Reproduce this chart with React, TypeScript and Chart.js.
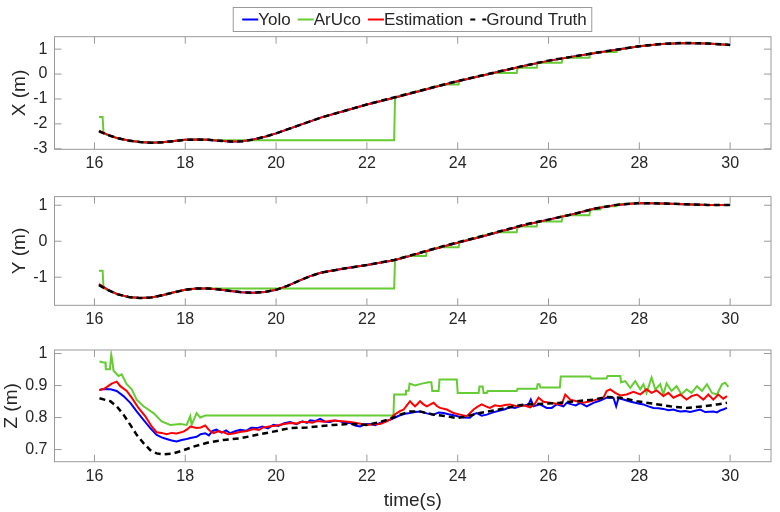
import { useEffect, useRef } from "react"
import Chart from "chart.js/auto"
import type { ChartConfiguration, Plugin } from "chart.js"

const FONT = '"Liberation Sans", Arial, Helvetica, sans-serif'
const TEXT = "#262626"
const BOX = "#9a9a9a"
const BLUE = "#0000ff"
const GREEN = "#66cc33"
const RED = "#ff0000"
const BLACK = "#000000"

const LABELS = ["Yolo", "ArUco", "Estimation", "Ground Truth"]

const T_MIN = 15.12
const T_MAX = 30.9
const TIME_TICKS = [16, 18, 20, 22, 24, 26, 28, 30]
const X_TICKS = [-3, -2, -1, 0, 1]
const Y_TICKS = [-1, 0, 1]
const Z_TICKS = [0.7, 0.8, 0.9, 1]

// X / Y panels: smooth tracks share one time base
const xyTime = [16.1, 16.3, 16.5, 16.75, 17.0, 17.25, 17.5, 17.75, 18.0, 18.25,
  18.5, 18.75, 19.0, 19.25, 19.5, 19.75, 20.0, 20.25, 20.5, 20.75,
  21.0, 21.5, 22.0, 22.6, 23.0, 23.5, 24.0, 24.5, 25.0, 25.5,
  26.0, 26.5, 27.0, 27.5, 28.0, 28.5, 29.0, 29.5, 30.0]

const xGt = [-2.3, -2.45, -2.57, -2.67, -2.73, -2.76, -2.74, -2.69, -2.64, -2.63,
  -2.64, -2.68, -2.71, -2.7, -2.63, -2.52, -2.38, -2.22, -2.06, -1.9,
  -1.74, -1.48, -1.22, -0.94, -0.75, -0.51, -0.28, -0.07, 0.14, 0.35,
  0.54, 0.69, 0.84, 0.98, 1.12, 1.21, 1.25, 1.23, 1.17]
const xEst = [-2.27, -2.44, -2.57, -2.67, -2.73, -2.76, -2.74, -2.69, -2.64, -2.63,
  -2.64, -2.68, -2.71, -2.7, -2.63, -2.52, -2.38, -2.22, -2.06, -1.9,
  -1.74, -1.48, -1.22, -0.95, -0.76, -0.52, -0.29, -0.08, 0.13, 0.34,
  0.53, 0.69, 0.84, 0.98, 1.12, 1.21, 1.25, 1.23, 1.17]
const xYolo = [-2.29, -2.45, -2.57, -2.67, -2.73, -2.76, -2.74, -2.69, -2.64, -2.63,
  -2.64, -2.68, -2.71, -2.7, -2.63, -2.52, -2.38, -2.22, -2.06, -1.9,
  -1.74, -1.48, -1.22, -0.95, -0.76, -0.52, -0.29, -0.08, 0.13, 0.34,
  0.53, 0.69, 0.84, 0.98, 1.12, 1.21, 1.25, 1.23, 1.17]
const xArucoT = [16.1, 16.18, 16.2, 16.3, 16.5, 16.75, 17.0, 17.25, 17.5, 17.75,
  18.0, 18.25, 18.5, 18.75, 19.3, 22.6, 22.62, 23.0, 23.5, 23.68,
  24.02, 24.04, 24.5, 24.8, 25.3, 25.32, 25.74, 25.76, 26.29, 26.31,
  26.35, 26.9, 26.92, 27.1, 27.5, 27.52, 28.0, 28.5, 29.0, 29.5,
  30.0]
const xAruco = [-1.72, -1.72, -2.38, -2.45, -2.57, -2.67, -2.73, -2.76, -2.74, -2.69,
  -2.64, -2.63, -2.64, -2.66, -2.66, -2.66, -0.94, -0.75, -0.51, -0.42,
  -0.42, -0.27, -0.07, 0.04, 0.04, 0.25, 0.25, 0.45, 0.45, 0.62,
  0.65, 0.65, 0.82, 0.89, 0.89, 0.99, 1.12, 1.21, 1.25, 1.23,
  1.17]

const yGt = [-1.22, -1.36, -1.47, -1.55, -1.58, -1.56, -1.5, -1.42, -1.35, -1.31,
  -1.31, -1.34, -1.38, -1.42, -1.43, -1.41, -1.35, -1.24, -1.1, -0.97,
  -0.87, -0.76, -0.66, -0.52, -0.38, -0.2, -0.03, 0.13, 0.3, 0.47,
  0.6, 0.74, 0.9, 1.01, 1.06, 1.05, 1.03, 1.01, 1.01]
const yEst = [-1.19, -1.35, -1.47, -1.55, -1.58, -1.56, -1.5, -1.42, -1.35, -1.31,
  -1.31, -1.34, -1.38, -1.42, -1.43, -1.41, -1.35, -1.24, -1.1, -0.97,
  -0.87, -0.76, -0.66, -0.53, -0.39, -0.21, -0.04, 0.12, 0.29, 0.46,
  0.6, 0.74, 0.9, 1.01, 1.06, 1.05, 1.03, 1.01, 1.01]
const yYolo = [-1.2, -1.36, -1.47, -1.55, -1.58, -1.56, -1.5, -1.42, -1.35, -1.31,
  -1.31, -1.34, -1.38, -1.42, -1.43, -1.41, -1.35, -1.24, -1.1, -0.97,
  -0.87, -0.76, -0.66, -0.53, -0.39, -0.21, -0.04, 0.12, 0.29, 0.46,
  0.6, 0.74, 0.9, 1.01, 1.06, 1.05, 1.03, 1.01, 1.01]
const yArucoT = [16.1, 16.18, 16.2, 16.3, 16.5, 16.75, 17.0, 17.25, 17.5, 17.75,
  18.0, 18.25, 18.45, 22.6, 22.62, 22.9, 23.3, 23.32, 23.6, 24.02,
  24.04, 24.5, 24.85, 25.3, 25.32, 25.74, 25.76, 26.29, 26.31, 26.4,
  26.9, 26.92, 27.14, 27.16, 27.3, 27.5, 27.52, 28.0, 28.5, 29.0,
  29.5, 30.0]
const yAruco = [-0.82, -0.82, -1.3, -1.36, -1.47, -1.55, -1.58, -1.56, -1.5, -1.42,
  -1.35, -1.31, -1.31, -1.31, -0.52, -0.41, -0.41, -0.27, -0.17, -0.17,
  -0.02, 0.13, 0.25, 0.25, 0.41, 0.41, 0.55, 0.55, 0.7, 0.72,
  0.72, 0.88, 0.88, 0.95, 0.97, 0.97, 1.02, 1.06, 1.05, 1.03,
  1.01, 1.01]

// Z panel: noisy tracks, each with its own sample times
const zYoloT = [16.11, 16.2, 16.35, 16.49, 16.64, 16.79, 16.93, 17.08, 17.23, 17.37,
  17.48, 17.59, 17.7, 17.81, 17.92, 18.03, 18.14, 18.25, 18.34, 18.44,
  18.52, 18.6, 18.69, 18.8, 18.9, 18.99, 19.1, 19.21, 19.35, 19.45,
  19.58, 19.7, 19.82, 19.94, 20.05, 20.18, 20.31, 20.45, 20.58, 20.68,
  20.75, 20.86, 20.97, 21.08, 21.19, 21.3, 21.41, 21.52, 21.63, 21.74,
  21.85, 21.96, 22.07, 22.18, 22.29, 22.4, 22.51, 22.62, 22.73, 22.84,
  22.95, 23.06, 23.17, 23.32, 23.47, 23.58, 23.69, 23.8, 23.91, 24.02,
  24.13, 24.27, 24.35, 24.42, 24.53, 24.64, 24.78, 24.93, 25.04, 25.15,
  25.26, 25.37, 25.47, 25.56, 25.61, 25.67, 25.81, 25.96, 26.07, 26.18,
  26.33, 26.4, 26.51, 26.6, 26.7, 26.84, 26.99, 27.14, 27.28, 27.43,
  27.49, 27.54, 27.63, 27.72, 27.81, 27.91, 28.0, 28.09, 28.2, 28.31,
  28.42, 28.53, 28.64, 28.75, 28.83, 28.9, 29.01, 29.12, 29.23, 29.34,
  29.45, 29.54, 29.63, 29.71, 29.78, 29.86, 29.93]
const zYolo = [0.886, 0.889, 0.888, 0.883, 0.867, 0.846, 0.819, 0.793, 0.767, 0.746,
  0.738, 0.733, 0.728, 0.725, 0.73, 0.733, 0.737, 0.74, 0.748, 0.751,
  0.744, 0.758, 0.762, 0.753, 0.76, 0.751, 0.757, 0.762, 0.759, 0.768,
  0.767, 0.772, 0.766, 0.777, 0.774, 0.782, 0.786, 0.779, 0.788, 0.783,
  0.791, 0.789, 0.796, 0.787, 0.786, 0.791, 0.788, 0.784, 0.783, 0.775,
  0.772, 0.779, 0.78, 0.776, 0.783, 0.788, 0.793, 0.8, 0.807, 0.812,
  0.814, 0.817, 0.819, 0.813, 0.809, 0.816, 0.814, 0.81, 0.807, 0.803,
  0.8, 0.799, 0.81, 0.814, 0.806, 0.809, 0.816, 0.822, 0.826, 0.833,
  0.83, 0.835, 0.838, 0.841, 0.856, 0.835, 0.841, 0.83, 0.83, 0.841,
  0.835, 0.846, 0.841, 0.838, 0.846, 0.835, 0.846, 0.853, 0.862, 0.862,
  0.835, 0.86, 0.857, 0.853, 0.849, 0.846, 0.843, 0.841, 0.835, 0.83,
  0.829, 0.827, 0.823, 0.825, 0.821, 0.819, 0.82, 0.817, 0.821, 0.825,
  0.817, 0.818, 0.819, 0.816, 0.822, 0.826, 0.83]

const zEstT = [16.11, 16.2, 16.27, 16.38, 16.49, 16.57, 16.71, 16.82, 16.97, 17.12,
  17.26, 17.37, 17.48, 17.59, 17.7, 17.81, 17.96, 18.04, 18.11, 18.25,
  18.34, 18.44, 18.53, 18.62, 18.73, 18.84, 18.95, 19.06, 19.2, 19.36,
  19.5, 19.62, 19.72, 19.85, 20.02, 20.15, 20.31, 20.45, 20.53, 20.68,
  20.8, 20.9, 21.05, 21.26, 21.4, 21.63, 21.8, 22.0, 22.15, 22.29,
  22.4, 22.51, 22.58, 22.66, 22.73, 22.81, 22.88, 22.95, 23.0, 23.06,
  23.12, 23.17, 23.24, 23.32, 23.4, 23.47, 23.54, 23.61, 23.76, 23.91,
  24.05, 24.2, 24.28, 24.35, 24.44, 24.53, 24.62, 24.71, 24.82, 24.93,
  25.04, 25.15, 25.3, 25.45, 25.6, 25.7, 25.78, 25.89, 26.03, 26.18,
  26.29, 26.37, 26.48, 26.62, 26.77, 26.92, 27.06, 27.21, 27.28, 27.36,
  27.47, 27.58, 27.72, 27.87, 28.02, 28.16, 28.27, 28.38, 28.53, 28.64,
  28.75, 28.9, 29.04, 29.15, 29.27, 29.41, 29.52, 29.63, 29.74, 29.85,
  29.93]
const zEst = [0.886, 0.889, 0.895, 0.906, 0.912, 0.898, 0.883, 0.862, 0.83, 0.804,
  0.772, 0.754, 0.752, 0.748, 0.752, 0.75, 0.756, 0.763, 0.772, 0.767,
  0.769, 0.775, 0.76, 0.751, 0.757, 0.754, 0.748, 0.75, 0.755, 0.758,
  0.764, 0.761, 0.769, 0.772, 0.775, 0.779, 0.783, 0.781, 0.786, 0.786,
  0.784, 0.789, 0.787, 0.791, 0.789, 0.786, 0.782, 0.777, 0.779, 0.78,
  0.786, 0.793, 0.806, 0.814, 0.82, 0.825, 0.838, 0.851, 0.843, 0.835,
  0.843, 0.851, 0.842, 0.835, 0.841, 0.846, 0.836, 0.83, 0.825, 0.814,
  0.809, 0.804, 0.815, 0.825, 0.834, 0.841, 0.835, 0.83, 0.838, 0.835,
  0.839, 0.841, 0.835, 0.838, 0.832, 0.843, 0.862, 0.849, 0.846, 0.843,
  0.841, 0.872, 0.856, 0.851, 0.846, 0.851, 0.856, 0.862, 0.883, 0.888,
  0.877, 0.869, 0.872, 0.88, 0.872, 0.888, 0.877, 0.885, 0.867, 0.877,
  0.862, 0.872, 0.856, 0.867, 0.872, 0.856, 0.872, 0.856, 0.872, 0.859,
  0.867]

const zArucoT = [16.11, 16.2, 16.24, 16.25, 16.34, 16.37, 16.39, 16.42, 16.53, 16.6,
  16.71, 16.82, 16.93, 17.08, 17.3, 17.48, 17.67, 17.89, 18.03, 18.11,
  18.14, 18.25, 18.33, 18.44, 22.585, 22.6, 22.84, 22.86, 22.92, 22.94,
  23.06, 23.21, 23.36, 23.42, 23.44, 23.58, 23.6, 23.98, 24.0, 24.46,
  24.48, 24.55, 24.57, 24.64, 24.66, 25.3, 25.32, 25.74, 25.76, 25.8,
  25.82, 26.25, 26.27, 26.92, 26.94, 27.28, 27.3, 27.58, 27.6, 27.69,
  27.8, 27.91, 28.02, 28.09, 28.16, 28.27, 28.35, 28.46, 28.53, 28.6,
  28.71, 28.82, 28.93, 29.04, 29.15, 29.27, 29.38, 29.49, 29.6, 29.71,
  29.82, 29.89, 29.96]
const zAruco = [0.975, 0.972, 0.972, 0.951, 0.951, 0.996, 0.98, 0.946, 0.93, 0.935,
  0.904, 0.888, 0.856, 0.835, 0.814, 0.788, 0.777, 0.78, 0.777, 0.804,
  0.777, 0.814, 0.8, 0.806, 0.806, 0.872, 0.872, 0.884, 0.884, 0.906,
  0.9, 0.906, 0.91, 0.91, 0.883, 0.883, 0.919, 0.919, 0.877, 0.877,
  0.897, 0.897, 0.877, 0.877, 0.883, 0.883, 0.89, 0.89, 0.904, 0.904,
  0.894, 0.894, 0.928, 0.928, 0.922, 0.922, 0.93, 0.93, 0.91, 0.914,
  0.893, 0.914, 0.888, 0.904, 0.877, 0.925, 0.888, 0.904, 0.872, 0.907,
  0.883, 0.898, 0.872, 0.888, 0.877, 0.898, 0.883, 0.904, 0.877, 0.872,
  0.904, 0.909, 0.896]

const zGtT = [16.11, 16.35, 16.49, 16.64, 16.79, 16.93, 17.08, 17.23, 17.37, 17.52,
  17.74, 17.96, 18.18, 18.48, 18.84, 19.21, 19.58, 19.94, 20.31, 20.68,
  20.9, 21.26, 21.63, 22.0, 22.29, 22.51, 22.73, 22.95, 23.17, 23.47,
  23.76, 23.98, 24.2, 24.49, 24.79, 25.08, 25.34, 25.52, 25.89, 26.25,
  26.62, 26.99, 27.28, 27.58, 27.94, 28.31, 28.68, 29.04, 29.41, 29.71,
  29.93]
const zGt = [0.86, 0.851, 0.835, 0.809, 0.777, 0.746, 0.72, 0.698, 0.688, 0.685,
  0.688, 0.698, 0.709, 0.721, 0.73, 0.735, 0.746, 0.756, 0.767, 0.769,
  0.772, 0.777, 0.78, 0.777, 0.786, 0.796, 0.809, 0.819, 0.819, 0.809,
  0.804, 0.798, 0.804, 0.814, 0.822, 0.83, 0.838, 0.841, 0.843, 0.846,
  0.851, 0.856, 0.864, 0.862, 0.851, 0.843, 0.835, 0.83, 0.835, 0.841,
  0.846]

const COLORS = [BLUE, GREEN, RED, BLACK]
// later-listed tracks sit on top (ground truth last)
const ORDERS = [3, 2, 1, 0]

function track(i: number, t: number[], v: number[]) {
  const dashed = i === 3
  return {
    label: LABELS[i],
    data: t.map((x, k) => ({ x, y: v[k] })),
    borderColor: COLORS[i],
    backgroundColor: COLORS[i],
    borderWidth: dashed ? 2.5 : 2,
    borderDash: dashed ? [6, 4] : [],
    pointRadius: 0,
    tension: 0,
    fill: false,
    order: ORDERS[i],
  }
}

// MATLAB-ish box with inward tick marks on all four sides
const axesBox: Plugin = {
  id: "axesBox",
  afterDraw(chart) {
    const { ctx, chartArea: a, scales } = chart
    ctx.save()
    ctx.strokeStyle = BOX
    ctx.lineWidth = 1
    ctx.setLineDash([])
    ctx.strokeRect(a.left, a.top, a.right - a.left, a.bottom - a.top)
    const len = 7
    ctx.beginPath()
    for (const tk of scales.x.ticks) {
      const px = scales.x.getPixelForValue(tk.value)
      ctx.moveTo(px, a.bottom); ctx.lineTo(px, a.bottom - len)
      ctx.moveTo(px, a.top); ctx.lineTo(px, a.top + len)
    }
    for (const tk of scales.y.ticks) {
      const py = scales.y.getPixelForValue(tk.value)
      ctx.moveTo(a.left, py); ctx.lineTo(a.left + len, py)
      ctx.moveTo(a.right, py); ctx.lineTo(a.right - len, py)
    }
    ctx.stroke()
    ctx.restore()
  },
}

// boxed horizontal legend above the first panel
const legendBox: Plugin = {
  id: "legendBox",
  afterDraw(chart) {
    const ctx = chart.ctx
    const sets = [...chart.data.datasets].sort((p: any, q: any) => LABELS.indexOf(p.label) - LABELS.indexOf(q.label))
    ctx.save()
    ctx.font = `17px ${FONT}`
    const lineLen = 14, gap = 2, itemGap = 7, padL = 9, padR = 5
    const widths = sets.map((d) => ctx.measureText(String(d.label)).width)
    const total = padL + padR + widths.reduce((s, w) => s + lineLen + gap + w, 0) + itemGap * (sets.length - 1)
    const left = 412.5 - total / 2
    const top = 7.5, h = 24
    ctx.fillStyle = "#fff"
    ctx.fillRect(left, top, total, h)
    ctx.strokeStyle = BOX
    ctx.lineWidth = 1
    ctx.strokeRect(left, top, total, h)
    let x = left + padL
    const cy = top + h / 2
    sets.forEach((d: any, i) => {
      ctx.beginPath()
      ctx.strokeStyle = d.borderColor
      ctx.lineWidth = 2
      ctx.setLineDash(d.borderDash && d.borderDash.length ? [5, 7] : [])
      ctx.moveTo(x, cy); ctx.lineTo(x + lineLen + 2, cy)
      ctx.stroke()
      ctx.setLineDash([])
      x += lineLen + gap
      ctx.fillStyle = TEXT
      ctx.textBaseline = "middle"
      ctx.textAlign = "left"
      ctx.fillText(String(d.label), x, cy + 1)
      x += widths[i] + itemGap
    })
    ctx.restore()
  },
}

type PanelSpec = {
  height: number
  padTop: number
  xAxisH: number
  yMin: number
  yMax: number
  yTicks: number[]
  yTitle: string
  yTitlePad: number
  xTitle?: string
  legend?: boolean
  datasets: any[]
}

function makeConfig(p: PanelSpec): ChartConfiguration {
  const tickFont = { family: FONT, size: 16 }
  return {
    type: "line",
    data: { datasets: p.datasets },
    options: {
      responsive: false,
      animation: false,
      events: [],
      layout: { padding: { top: p.padTop, right: 9, left: 0, bottom: 0 } },
      plugins: { legend: { display: false }, tooltip: { enabled: false } },
      scales: {
        x: {
          type: "linear",
          min: T_MIN,
          max: T_MAX,
          afterBuildTicks: (s) => { s.ticks = TIME_TICKS.map((value) => ({ value })) },
          afterFit: (s) => { s.height = p.xAxisH },
          grid: { display: false, drawTicks: false },
          border: { display: false },
          ticks: { padding: 5, color: TEXT, font: tickFont, maxRotation: 0, autoSkip: false, callback: (v) => `${v}` },
          title: {
            display: !!p.xTitle,
            text: p.xTitle || "",
            color: TEXT,
            font: { family: FONT, size: 19 },
            padding: { top: 0, bottom: 0 },
          },
        },
        y: {
          type: "linear",
          min: p.yMin,
          max: p.yMax,
          afterBuildTicks: (s) => { s.ticks = p.yTicks.map((value) => ({ value })) },
          afterFit: (s) => { s.width = 54.5 },
          grid: { display: false, drawTicks: false },
          border: { display: false },
          ticks: { padding: 7, color: TEXT, font: tickFont, autoSkip: false, callback: (v) => `${v}` },
          title: {
            display: true,
            text: p.yTitle,
            color: TEXT,
            font: { family: FONT, size: 19 },
            padding: { top: p.yTitlePad, bottom: 0 },
          },
        },
      },
    },
    plugins: p.legend ? [axesBox, legendBox] : [axesBox],
  } as ChartConfiguration
}

const PANELS: (PanelSpec & { top: number })[] = [
  {
    top: 0, height: 180, padTop: 36.7, xAxisH: 30.7,
    yMin: -3.02, yMax: 1.5, yTicks: X_TICKS, yTitle: "X (m)", yTitlePad: 8.6, legend: true,
    datasets: [track(0, xyTime, xYolo), track(1, xArucoT, xAruco), track(2, xyTime, xEst), track(3, xyTime, xGt)],
  },
  {
    top: 180, height: 150, padTop: 13.3, xAxisH: 24.7,
    yMin: -1.78, yMax: 1.24, yTicks: Y_TICKS, yTitle: "Y (m)", yTitlePad: 8.6,
    datasets: [track(0, xyTime, yYolo), track(1, yArucoT, yAruco), track(2, xyTime, yEst), track(3, xyTime, yGt)],
  },
  {
    top: 330, height: 182, padTop: 20, xAxisH: 50.3,
    yMin: 0.662, yMax: 1.011, yTicks: Z_TICKS, yTitle: "Z (m)", yTitlePad: 0.5, xTitle: "time(s)",
    datasets: [track(0, zYoloT, zYolo), track(1, zArucoT, zAruco), track(2, zEstT, zEst), track(3, zGtT, zGt)],
  },
]

function Panel({ spec }: { spec: PanelSpec & { top: number } }) {
  const ref = useRef<HTMLCanvasElement>(null)

  useEffect(() => {
    if (!ref.current) return
    const chart = new Chart(ref.current, makeConfig(spec))
    return () => chart.destroy()
  }, [spec])

  return (
    <canvas
      ref={ref}
      width={780}
      height={spec.height}
      style={{ position: "absolute", left: 0, top: spec.top, width: 780, height: spec.height }}
    />
  )
}

export default function App() {
  return (
    <div style={{ position: "absolute", left: 0, top: 0, width: 780, height: 512, background: "#fff", overflow: "hidden" }}>
      {PANELS.map((p, i) => (
        <Panel key={i} spec={p} />
      ))}
    </div>
  )
}
